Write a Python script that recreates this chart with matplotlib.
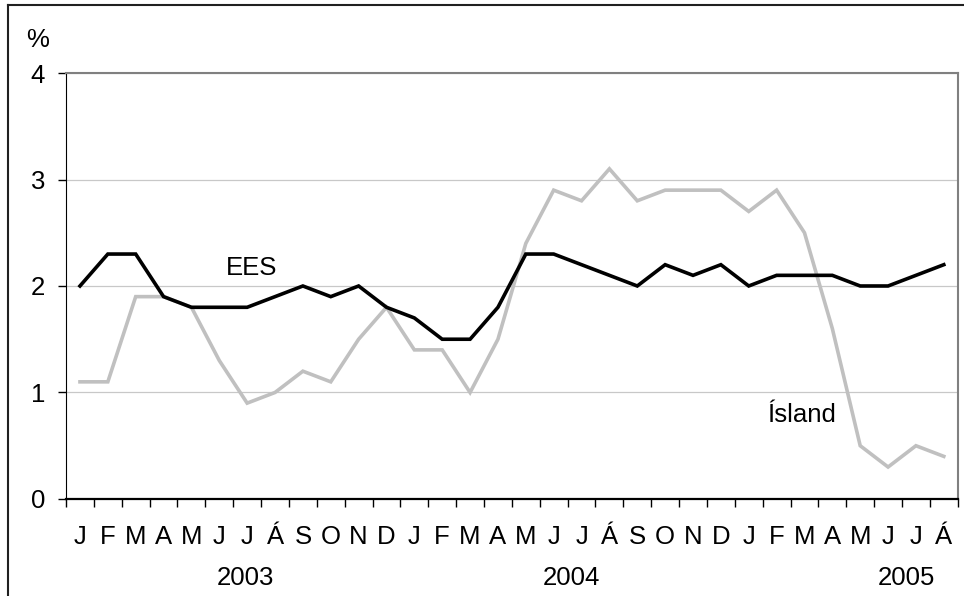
import numpy as np
import matplotlib
matplotlib.use('Agg')
import matplotlib.pyplot as plt
from matplotlib.lines import Line2D
from matplotlib.transforms import blended_transform_factory

plt.rcParams['font.family'] = ['Liberation Sans', 'DejaVu Sans']

months = ['J', 'F', 'M', 'A', 'M', 'J', 'J', 'Á', 'S', 'O', 'N', 'D',
          'J', 'F', 'M', 'A', 'M', 'J', 'J', 'Á', 'S', 'O', 'N', 'D',
          'J', 'F', 'M', 'A', 'M', 'J', 'J', 'Á']
years = ['2003', '2004', '2005']
year_pos = [5.95, 17.65, 29.65]

ees = [2.0, 2.3, 2.3, 1.9, 1.8, 1.8, 1.8, 1.9, 2.0, 1.9, 2.0, 1.8,
       1.7, 1.5, 1.5, 1.8, 2.3, 2.3, 2.2, 2.1, 2.0, 2.2, 2.1, 2.2,
       2.0, 2.1, 2.1, 2.1, 2.0, 2.0, 2.1, 2.2]
island = [1.1, 1.1, 1.9, 1.9, 1.8, 1.3, 0.9, 1.0, 1.2, 1.1, 1.5, 1.8,
          1.4, 1.4, 1.0, 1.5, 2.4, 2.9, 2.8, 3.1, 2.8, 2.9, 2.9, 2.9,
          2.7, 2.9, 2.5, 1.6, 0.5, 0.3, 0.5, 0.4]

fs = 18.5

fig = plt.figure(figsize=(9.64, 5.96), dpi=100)
ax = fig.add_axes([0.0685, 0.1628, 0.925, 0.7147])

x = np.arange(len(months))
ax.plot(x, island, color='#c0c0c0', lw=2.6, solid_joinstyle='miter')
ax.plot(x, ees, color='black', lw=2.6, solid_joinstyle='miter')

ax.set_xlim(-0.5, len(months) - 0.5)
ax.set_ylim(0, 4)
ax.set_yticks([0, 1, 2, 3, 4])
ax.yaxis.grid(True, color='#c8c8c8', lw=0.9)
ax.set_axisbelow(True)
ax.tick_params(axis='y', labelsize=fs, length=6, pad=9, direction='out', width=1)

ax.set_xticks(np.arange(len(months) + 1) - 0.5)
ax.set_xticklabels([])
ax.set_xticks(x, minor=True)
ax.set_xticklabels(months, minor=True)
ax.tick_params(axis='x', which='major', length=6, direction='out', width=1)
ax.tick_params(axis='x', which='minor', length=0, labelsize=fs, pad=19)

ax.spines['left'].set_color('black')
ax.spines['bottom'].set_color('black')
ax.spines['bottom'].set_linewidth(1.6)
ax.spines['top'].set_color('#808080')
ax.spines['right'].set_color('#808080')
ax.spines['top'].set_linewidth(1.5)
ax.spines['right'].set_linewidth(1.5)

trans = blended_transform_factory(ax.transData, ax.transAxes)
for yr, p in zip(years, year_pos):
    ax.text(p, -0.185, yr, transform=trans, ha='center', va='center', fontsize=fs)

ax.text(6.15, 2.17, 'EES', ha='center', va='center', fontsize=fs)
ax.text(25.9, 0.79, 'Ísland', ha='center', va='center', fontsize=fs)
fig.text(38 / 964, 1 - 40 / 596, '%', ha='center', va='center', fontsize=fs)

# frame around the figure (only top and left are visible in the crop)
fig.add_artist(Line2D([8 / 964, 8 / 964], [0, 1 - 5 / 596], transform=fig.transFigure, color='#202020', lw=1.5))
fig.add_artist(Line2D([8 / 964, 1], [1 - 5 / 596, 1 - 5 / 596], transform=fig.transFigure, color='#202020', lw=1.5))

fig.savefig('out.png', dpi=100)
